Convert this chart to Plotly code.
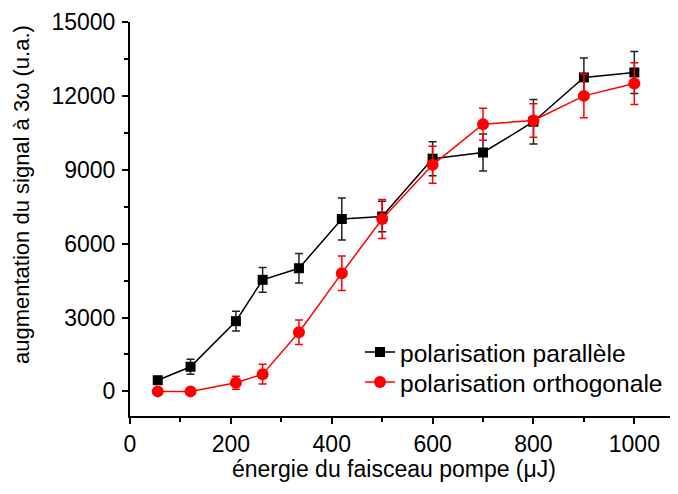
import plotly.graph_objects as go

# Data
energy = [55, 120, 210, 263, 335, 420, 500, 600, 700, 800, 900, 1000]
par_vals = [450, 1000, 2850, 4530, 5000, 7000, 7100, 9450, 9700, 10950, 12750, 12950]
par_err = [150, 300, 400, 500, 600, 850, 620, 690, 750, 900, 790, 850]
orth_vals = [0, 0, 350, 700, 2400, 4800, 7000, 9200, 10850, 11000, 12000, 12500]
orth_err = [0, 0, 260, 400, 500, 700, 790, 750, 650, 680, 890, 850]

FONT = "Liberation Sans, Arial, sans-serif"

fig = go.Figure()
fig.add_trace(go.Scatter(
    x=energy, y=par_vals, mode="lines+markers", name="polarisation parallèle",
    legend="legend",
    line=dict(color="black", width=1.5),
    marker=dict(symbol="square", size=10, color="black"),
    error_y=dict(type="data", array=par_err, visible=True, color="#222222", thickness=1.5, width=4),
))
fig.add_trace(go.Scatter(
    x=energy, y=orth_vals, mode="lines+markers", name="polarisation orthogonale",
    legend="legend2",
    line=dict(color="#ff0000", width=1.5),
    marker=dict(symbol="circle", size=12, color="#ff0000"),
    error_y=dict(type="data", array=orth_err, visible=True, color="#ff0000", thickness=1.5, width=4),
))

XMAX = 1086.6
LEGX = (360 - 130) / 548
leg_common = dict(x=LEGX, xanchor="left", yanchor="middle",
                  font=dict(size=24.6, family=FONT), bgcolor="rgba(0,0,0,0)")
fig.update_layout(
    width=670, height=486,
    margin=dict(l=122, r=0, t=14, b=78),
    paper_bgcolor="white", plot_bgcolor="white",
    font=dict(family=FONT, size=23, color="black"),
    showlegend=True,
    legend=dict(y=(416 - 352) / 394, **leg_common),
    legend2=dict(y=(416 - 382) / 394, **leg_common),
    xaxis=dict(range=[0, XMAX], showgrid=False, zeroline=False,
               showline=True, linecolor="black", linewidth=2,
               ticks="outside", ticklen=6, tickwidth=1.5, tickcolor="black",
               tick0=0, dtick=200, tickformat="d",
               minor=dict(ticks="outside", ticklen=4, tickwidth=1.5, dtick=100, tick0=0, tickcolor="black"),
               tickfont=dict(size=23)),
    xaxis2=dict(range=[0, XMAX], overlaying="x", side="top", showgrid=False, zeroline=False,
                showline=True, linecolor="black", linewidth=2,
                ticks="inside", ticklen=6, tickwidth=1.5, tickcolor="black",
                tick0=0, dtick=200, showticklabels=False,
                minor=dict(ticks="inside", ticklen=4, tickwidth=1.5, dtick=100, tick0=0, tickcolor="black")),
    yaxis=dict(range=[-1000, 15000], showgrid=False, zeroline=False,
               showline=True, linecolor="black", linewidth=2,
               ticks="outside", ticklen=6, tickwidth=1.5, tickcolor="black",
               tick0=0, dtick=3000, tickformat="d", ticklabelstandoff=2,
               minor=dict(ticks="outside", ticklen=4, tickwidth=1.5, dtick=1500, tick0=0, tickcolor="black"),
               tickfont=dict(size=23)),
    annotations=[
        dict(text="énergie du faisceau pompe (μJ)", xref="paper", yref="paper",
             x=(394 - 130) / 548, y=(416 - 469) / 394, xanchor="center", yanchor="middle",
             showarrow=False, font=dict(size=23, family=FONT)),
        dict(text="augmentation du signal à 3ω (u.a.)", xref="paper", yref="paper",
             x=(21 - 130) / 548, y=(416 - 195) / 394, xanchor="center", yanchor="middle",
             textangle=-90, showarrow=False, font=dict(size=22, family=FONT)),
    ],
)

fig.write_html("out.html")
